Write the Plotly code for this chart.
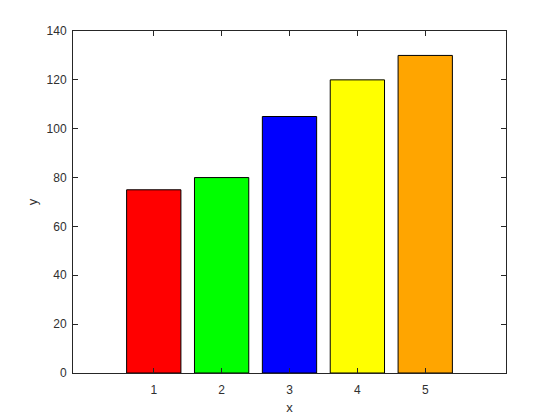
import plotly.graph_objects as go

categories = [1, 2, 3, 4, 5]
values = [75, 80, 105, 120, 130]
colors = ["#ff0000", "#00ff00", "#0000ff", "#ffff00", "#ffa500"]

fig = go.Figure(go.Bar(
    x=categories, y=values, width=0.8,
    marker=dict(color=colors, line=dict(color="#000000", width=1)),
))

axis_common = dict(
    showline=True, linecolor="#262626", linewidth=1, mirror="ticks",
    ticks="inside", ticklen=5, tickcolor="#262626", tickwidth=1,
    showgrid=False, zeroline=False, automargin=False,
    tickfont=dict(family="Liberation Sans, Arial", size=12, color="#303030"),
    title_font=dict(family="Liberation Sans, Arial", size=13, color="#303030"),
)

fig.update_layout(
    width=560, height=420,
    margin=dict(l=73, r=54, t=31, b=47),
    paper_bgcolor="white", plot_bgcolor="white",
    showlegend=False,
    xaxis=dict(range=[-0.19, 6.19], tickvals=categories, ticklabelstandoff=6,
               title=dict(text="x", standoff=6), **axis_common),
    yaxis=dict(range=[0, 140], dtick=20, ticklabelstandoff=3,
               title=dict(text="y", standoff=6), **axis_common),
)

fig.write_html("out.html")
